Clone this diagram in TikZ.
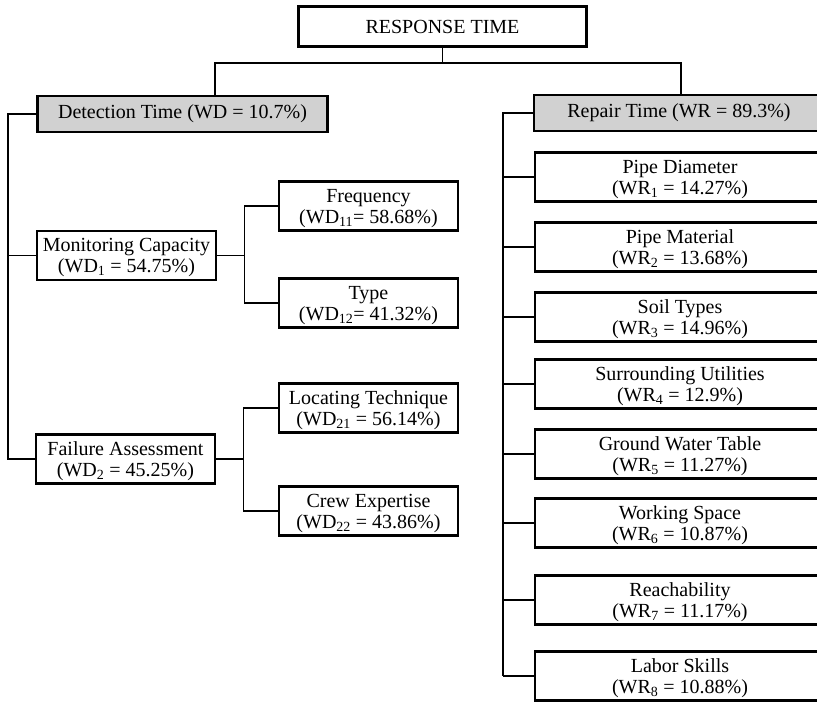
\documentclass[tikz,border=0pt]{standalone}
\usepackage{fontspec}
\setmainfont{Liberation Serif}
\definecolor{boxgray}{gray}{0.82}
\newcommand{\twoline}[2]{\begin{tabular}{@{}c@{}}\rule{0pt}{20pt}#1\\#2\end{tabular}}

\tikzset{
  box/.style={draw, line width=2.8pt, inner sep=0pt,
    minimum width=179pt, minimum height=49pt,
    font=\fontsize{20}{21}\selectfont},
  widebox/.style={box, minimum width=290pt},
  headbox/.style={widebox, fill=boxgray, minimum height=36pt},
  link/.style={line width=1.3pt}
}

\begin{document}
\begin{tikzpicture}[x=1pt, y=-1pt]
   \fill [white] (0,0) rectangle (817,703);
   \useasboundingbox (0,0) rectangle (817,703);

   % root
   \node [box, minimum width=288pt, minimum height=40pt] (resp) at (442.5,26.5) {RESPONSE TIME};

   % detection side
   \node [headbox] (det) at (182.5,114) {Detection Time (WD = 10.7\%)};
   \node [box] (mon) at (126.5,255.5) {\twoline{Monitoring Capacity}{(WD\textsubscript{1} = 54.75\%)}};
   \node [box] (fail) at (125.5,459) {\twoline{Failure Assessment}{(WD\textsubscript{2} = 45.25\%)}};
   \node [box] (freq) at (368.5,206) {\twoline{Frequency}{(WD\textsubscript{11}= 58.68\%)}};
   \node [box] (type) at (368.5,303) {\twoline{Type}{(WD\textsubscript{12}= 41.32\%)}};
   \node [box] (loc) at (368.5,408) {\twoline{Locating Technique}{(WD\textsubscript{21} = 56.14\%)}};
   \node [box] (crew) at (368.5,511) {\twoline{Crew Expertise}{(WD\textsubscript{22} = 43.86\%)}};

   % repair side
   \node [headbox] (rep) at (679,113) {Repair Time (WR = 89.3\%)};
   \node [widebox] (wr1) at (680,177) {\twoline{Pipe Diameter}{(WR\textsubscript{1} = 14.27\%)}};
   \node [widebox] (wr2) at (680,247) {\twoline{Pipe Material}{(WR\textsubscript{2} = 13.68\%)}};
   \node [widebox] (wr3) at (680,317) {\twoline{Soil Types}{(WR\textsubscript{3} = 14.96\%)}};
   \node [widebox] (wr4) at (680,384) {\twoline{Surrounding Utilities}{(WR\textsubscript{4} = 12.9\%)}};
   \node [widebox] (wr5) at (680,454) {\twoline{Ground Water Table}{(WR\textsubscript{5} = 11.27\%)}};
   \node [widebox] (wr6) at (680,523) {\twoline{Working Space}{(WR\textsubscript{6} = 10.87\%)}};
   \node [widebox] (wr7) at (680,600) {\twoline{Reachability}{(WR\textsubscript{7} = 11.17\%)}};
   \node [widebox] (wr8) at (680,676) {\twoline{Labor Skills}{(WR\textsubscript{8} = 10.88\%)}};

   % top branch
   \coordinate (bus) at (442.5,63);
   \draw [link] (resp.south) -- (bus);
   \draw [link] ([xshift=32.5pt]det.north) |- (bus) -| ([xshift=2pt]rep.north);

   % detection spine
   \coordinate (dspine) at (8,0);
   \draw [link] (det.west) -- (det.west -| dspine) -- (fail.west -| dspine) -- (fail.west);
   \draw [link] (mon.west -| dspine) -- (mon.west);

   \draw [link] (mon.east) -- ++(27,0) coordinate (mj);
   \draw [link] (freq.west) -| (mj) |- (type.west);
   \draw [link] (fail.east) -- ++(27,0) coordinate (fj);
   \draw [link] (loc.west) -| (fj) |- (crew.west);

   % repair spine
   \coordinate (rspine) at (503,0);
   \draw [link] (rep.west) -- (rep.west -| rspine) -- (wr8.west -| rspine);
   \foreach \n in {1,...,8}
     \draw [link] (wr\n.west -| rspine) -- (wr\n.west);

\end{tikzpicture}
\end{document}
